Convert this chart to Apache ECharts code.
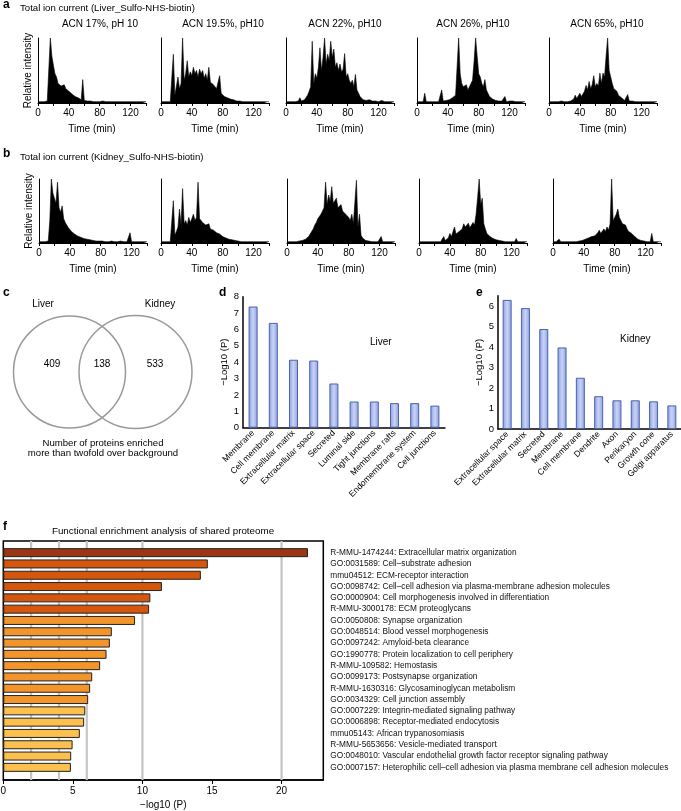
<!DOCTYPE html>
<html><head><meta charset="utf-8">
<script src="https://cdn.jsdelivr.net/npm/echarts@6/dist/echarts.min.js"></script>
<style>html,body{margin:0;padding:0;background:#fff}#c{width:681px;height:811px}</style>
</head><body><div id="c"></div><script>
const FONT = '"Liberation Sans", Arial, Helvetica, sans-serif';

// ---------- Panel a / b : total ion current traces (relative intensity, 2-min sampling) ----------
const ticTime = [0,2,4,6,8,10,12,14,16,18,20,22,24,26,28,30,32,34,36,38,40,42,44,46,48,50,52,54,56,58,60,62,64,66,68,70,72,74,76,78,80,82,84,86,88,90,92,94,96,98,100,102,104,106,108,110,112,114,116,118,120,122,124,126,128,130,132,134,136,138,140];
const ticTickLabels = [0,40,80,120];
const fractionTitles = ['ACN 17%, pH 10','ACN 19.5%, pH10','ACN 22%, pH10','ACN 26%, pH10','ACN 65%, pH10'];

const liverACN17  = [2,2,2,2,2,2,3,5,100,72,58,45,40,30,32,26,24,28,22,25,18,16,14,12,10,9,8,6,5,36,4,3,3,2,3,2,2,3,2,2,2,2,3,2,2,2,2,3,2,2,2,2,2,3,2,2,2,2,2,3,2,2,2,2,2,3,2,2,2,2,2];
const liverACN195 = [2,2,2,2,2,2,2,3,75,12,15,40,22,30,100,35,45,65,40,48,42,55,45,50,40,52,45,50,38,45,35,55,32,30,28,25,22,20,42,15,12,10,9,8,7,6,5,5,4,3,3,3,2,2,2,2,3,2,2,2,2,2,2,2,2,2,2,2,2,2,2];
const liverACN22  = [2,2,2,2,2,2,2,2,3,8,3,4,5,8,12,18,25,95,30,45,38,55,85,50,70,100,60,75,65,95,70,83,55,62,50,60,48,52,76,40,45,35,30,35,25,44,20,18,10,7,5,4,4,3,5,3,3,2,3,2,2,3,4,2,2,2,2,2,2,2,2];
const liverACN26  = [2,2,2,2,2,15,2,2,2,2,2,2,2,2,2,2,20,3,3,4,5,5,6,8,10,12,15,100,45,30,25,22,28,20,25,30,35,64,100,72,45,40,30,25,36,20,15,10,8,6,5,4,4,3,3,3,2,10,2,2,3,5,3,2,2,2,2,2,2,2,2];
const liverACN65  = [2,2,2,2,2,2,2,2,3,2,2,2,2,2,3,4,6,12,7,9,15,10,12,18,27,20,33,22,28,42,25,30,26,46,30,46,40,72,100,50,40,30,22,25,18,12,10,8,6,4,5,13,3,3,3,2,2,2,2,2,2,4,2,2,2,2,2,2,2,2,2];

const kidneyACN17  = [2,2,2,2,2,2,3,35,100,78,70,62,95,55,48,58,38,32,28,24,22,18,16,14,12,11,10,9,8,7,6,6,5,5,4,4,4,3,3,3,3,3,3,2,3,2,2,3,2,2,2,2,2,3,2,2,2,2,3,16,2,2,2,2,2,2,2,2,2,2,2];
const kidneyACN195 = [2,2,2,2,2,2,2,2,66,12,18,25,53,28,85,30,35,28,40,32,38,45,35,40,95,38,35,32,30,28,25,30,22,20,20,18,16,15,14,12,10,10,8,7,6,5,5,4,4,3,3,2,2,2,2,2,2,2,2,4,2,2,2,2,2,2,2,2,2,2,2];
const kidneyACN22  = [2,2,2,2,2,2,2,2,3,3,4,5,6,8,10,14,18,22,28,32,38,40,45,50,55,95,60,75,65,88,62,60,70,55,58,60,50,48,45,42,40,35,45,30,28,98,25,45,12,8,5,4,4,3,3,2,2,2,2,2,3,10,2,2,2,2,2,2,2,2,2];
const kidneyACN26  = [2,2,2,2,2,2,2,2,2,2,2,2,2,2,2,3,10,4,6,8,15,10,12,25,14,16,18,20,22,30,25,22,31,24,26,32,28,45,71,100,60,70,30,22,15,12,10,8,7,6,5,4,4,3,3,2,2,2,2,2,2,2,2,7,2,2,2,2,2,2,2];
const kidneyACN65  = [2,2,2,2,6,2,2,2,2,2,2,2,2,2,2,2,2,3,5,4,5,6,7,8,9,10,12,11,14,16,20,15,18,22,18,25,20,30,100,35,40,45,53,40,35,30,32,28,22,18,20,15,12,10,8,6,5,4,3,3,2,2,2,2,15,2,2,2,2,2,2];

const liverTraces  = [liverACN17, liverACN195, liverACN22, liverACN26, liverACN65];
const kidneyTraces = [kidneyACN17, kidneyACN195, kidneyACN22, kidneyACN26, kidneyACN65];

// ---------- Panel c : Venn ----------
const vennSets   = ['Liver','Kidney'];
const vennCounts = [409, 138, 533];   // liver only, shared, kidney only
const vennCaption = ['Number of proteins enriched','more than twofold over background'];

// ---------- Panel d / e : GO cellular component ----------
const liverCats = ['Membrane','Cell membrane','Extracellular matrix','Extracellular space','Secreted','Luminal side','Tight junctions','Membrane rafts','Endomembrane system','Cell junctions'];
const liverVals = [7.4, 6.4, 4.15, 4.1, 2.7, 1.6, 1.6, 1.5, 1.5, 1.35];
const kidneyCats = ['Extracellular space','Extracellular matrix','Secreted','Membrane','Cell membrane','Dendrite','Axon','Perikaryon','Growth cone','Golgi apparatus'];
const kidneyVals = [6.3, 5.9, 4.88, 3.98, 2.5, 1.6, 1.4, 1.4, 1.35, 1.15];

// ---------- Panel f : functional enrichment ----------
const fTerms = [
 'R-MMU-1474244: Extracellular matrix organization',
 'GO:0031589: Cell\u2013substrate adhesion',
 'mmu04512: ECM-receptor interaction',
 'GO:0098742: Cell\u2013cell adhesion via plasma-membrane adhesion molecules',
 'GO:0000904: Cell morphogenesis involved in differentiation',
 'R-MMU-3000178: ECM proteoglycans',
 'GO:0050808: Synapse organization',
 'GO:0048514: Blood vessel morphogenesis',
 'GO:0097242: Amyloid-beta clearance',
 'GO:1990778: Protein localization to cell periphery',
 'R-MMU-109582: Hemostasis',
 'GO:0099173: Postsynapse organization',
 'R-MMU-1630316: Glycosaminoglycan metabolism',
 'GO:0034329: Cell junction assembly',
 'GO:0007229: Integrin-mediated signaling pathway',
 'GO:0006898: Receptor-mediated endocytosis',
 'mmu05143: African trypanosomiasis',
 'R-MMU-5653656: Vesicle-mediated transport',
 'GO:0048010: Vascular endothelial growth factor receptor signaling pathway',
 'GO:0007157: Heterophilic cell\u2013cell adhesion via plasma membrane cell adhesion molecules'
];
const fVals = [21.9, 14.7, 14.2, 11.4, 10.57, 10.48, 9.47, 7.8, 7.66, 7.42, 6.96, 6.39, 6.24, 6.1, 5.89, 5.81, 5.5, 4.98, 4.88, 4.86];
const fColorGroup = [0,1,1,1,1,1,2,2,2,2,2,2,2,2,3,3,3,3,3,3];
const fPalette = ['#9c3514','#d4570d','#f2952a','#fcc04e'];
const fGridLines = [2,4,6,10,20];
const fTicks = [0,5,10,15,20];

// ================== build option ==================
const grids=[], xAxes=[], yAxes=[], series=[], graphics=[];
const txt = (s, x, y, size, opt={}) => graphics.push(Object.assign({type:'text', x, y, silent:true,
  style:Object.assign({text:s, fontSize:size, fontFamily:FONT, fill:'#000', align:'left', verticalAlign:'middle'}, opt.style||{})}, opt.el||{}));

function addTIC(left, top, height, data, showYName){
  const idx = grids.length;
  grids.push({left, top, width:108, height, outerBoundsMode:'none'});
  xAxes.push({gridIndex:idx, type:'value', min:0, max:140, interval:20,
    axisLine:{show:true, lineStyle:{color:'#000', width:1}},
    axisTick:{show:true, length:3, lineStyle:{color:'#000', width:1}},
    axisLabel:{fontSize:10, color:'#000', margin:5.5, fontFamily:FONT, formatter:v=>ticTickLabels.includes(v)?String(v):''},
    splitLine:{show:false},
    name:'Time (min)', nameLocation:'middle', nameGap:21, nameTextStyle:{fontSize:10, color:'#000', fontFamily:FONT}});
  yAxes.push({gridIndex:idx, type:'value', min:0, max:100,
    axisLine:{show:true, lineStyle:{color:'#000', width:1}}, axisTick:{show:false}, axisLabel:{show:false}, splitLine:{show:false},
    name: showYName?'Relative intensity':'', nameLocation:'middle', nameGap:5, nameRotate:90,
    nameTextStyle:{fontSize:10, color:'#000', fontFamily:FONT}});
  series.push({type:'line', xAxisIndex:idx, yAxisIndex:idx, data:ticTime.map((t,i)=>[t,data[i]]),
    symbol:'none', lineStyle:{color:'#000', width:0.6}, areaStyle:{color:'#000', opacity:1}, silent:true});
}
const aLefts=[38,161,286,417,549], aTitleX=[100,223,345,473,607];
const bLefts=[39,161,287,419,553];
liverTraces.forEach((d,i)=>addTIC(aLefts[i], 38, 65, d, i===0));
kidneyTraces.forEach((d,i)=>addTIC(bLefts[i], 179, 64, d, i===0));
fractionTitles.forEach((t,i)=>txt(t, aTitleX[i], 24, 10, {style:{align:'center'}}));

// panel titles
txt('a', 3, 5, 12, {style:{fontWeight:'bold'}});
txt('Total ion current (Liver_Sulfo-NHS-biotin)', 20, 8, 9.6);
txt('b', 3, 154, 12, {style:{fontWeight:'bold'}});
txt('Total ion current (Kidney_Sulfo-NHS-biotin)', 20, 157, 9.6);
txt('c', 3, 293, 12, {style:{fontWeight:'bold'}});
txt('d', 219, 293, 12, {style:{fontWeight:'bold'}});
txt('e', 476, 293, 12, {style:{fontWeight:'bold'}});
txt('f', 3, 527, 12, {style:{fontWeight:'bold'}});

// Venn
graphics.push({type:'circle', shape:{cx:69.5, cy:372, r:56}, silent:true, style:{fill:'none', stroke:'#9a9a9a', lineWidth:1.5}});
graphics.push({type:'circle', shape:{cx:135.5, cy:372, r:56.5}, silent:true, style:{fill:'none', stroke:'#9a9a9a', lineWidth:1.5}});
txt(vennSets[0], 43, 304, 10, {style:{align:'center'}});
txt(vennSets[1], 160, 304, 10, {style:{align:'center'}});
[52,102,155].forEach((x,i)=>txt(String(vennCounts[i]), x, 364, 10, {style:{align:'center'}}));
txt(vennCaption[0], 103, 443, 9.6, {style:{align:'center'}});
txt(vennCaption[1], 103, 453.5, 9.6, {style:{align:'center'}});

// d / e bar charts
const blueGrad = {type:'linear', x:0, y:0, x2:1, y2:0, colorStops:[{offset:0,color:'#8b9edd'},{offset:0.5,color:'#c9d3f5'},{offset:1,color:'#8b9edd'}]};
function addCC(left, top, width, height, max, cats, vals, label, lx, ly){
  const idx = grids.length;
  grids.push({left, top, width, height, outerBoundsMode:'none'});
  xAxes.push({gridIndex:idx, type:'category', data:cats,
    axisLine:{show:true, lineStyle:{color:'#000', width:1.5}}, axisTick:{show:false},
    axisLabel:{rotate:45, fontSize:8.6, margin:4, interval:0, color:'#000', fontFamily:FONT}});
  yAxes.push({gridIndex:idx, type:'value', min:0, max, interval:1,
    axisLine:{show:true, lineStyle:{color:'#000', width:1.5}}, axisTick:{show:false}, splitLine:{show:false},
    axisLabel:{fontSize:9.5, margin:4, color:'#000', fontFamily:FONT, showMaxLabel: max%1===0},
    name:'\u2212Log10 (P)', nameLocation:'middle', nameGap:12, nameRotate:90,
    nameTextStyle:{fontSize:9.5, color:'#000', fontFamily:FONT}});
  series.push({type:'bar', xAxisIndex:idx, yAxisIndex:idx, data:vals, barWidth:9, silent:true,
    itemStyle:{color:blueGrad, borderColor:'#4a62b3', borderWidth:1}});
  txt(label, lx, ly, 10);
}
addCC(243, 296.7, 202, 131, 8, liverCats, liverVals, 'Liver', 370, 342);
addCC(498, 295.8, 183, 133.2, 6.5, kidneyCats, kidneyVals, 'Kidney', 620, 339);

// panel f frame
const fFrame = grids.length;
grids.push({left:3.3, top:541, width:320, height:239, show:true, borderColor:'#000', borderWidth:1.5, backgroundColor:'transparent', outerBoundsMode:'none'});
xAxes.push({gridIndex:fFrame, type:'value', min:0, max:23, interval:5,
  axisLine:{show:true, lineStyle:{color:'#000', width:1.5}},
  axisTick:{show:true, length:4, lineStyle:{color:'#000'}},
  axisLabel:{fontSize:10, color:'#000', margin:6, fontFamily:FONT, showMaxLabel:false, formatter:v=>fTicks.includes(v)?String(v):''},
  splitLine:{show:false},
  name:'\u2212log10 (P)', nameLocation:'middle', nameGap:20, nameTextStyle:{fontSize:10, color:'#000', fontFamily:FONT}});
yAxes.push({gridIndex:fFrame, type:'value', min:0, max:1, show:false});
fGridLines.forEach(v=>series.push({type:'line', xAxisIndex:fFrame, yAxisIndex:fFrame, data:[[v,0],[v,1]],
  symbol:'none', silent:true, lineStyle:{color:'#c4c4c4', width:2.2}, z:1}));

// panel f bars
const fBars = grids.length;
grids.push({left:3.3, top:547, width:320, height:226, outerBoundsMode:'none'});
xAxes.push({gridIndex:fBars, type:'value', min:0, max:23, show:false});
yAxes.push({gridIndex:fBars, type:'category', data:fTerms, inverse:true, position:'right',
  axisLine:{show:false}, axisTick:{show:false},
  axisLabel:{fontSize:8.3, color:'#111', margin:7, align:'left', interval:0, fontFamily:FONT}});
series.push({type:'bar', xAxisIndex:fBars, yAxisIndex:fBars, barWidth:9, silent:true, z:3,
  data:fVals.map((v,i)=>({value:v, itemStyle:{color:fPalette[fColorGroup[i]]}})),
  itemStyle:{borderColor:'#222', borderWidth:1}});
txt('Functional enrichment analysis of shared proteome', 163, 531, 9.8, {style:{align:'center'}});

const chart = echarts.init(document.getElementById('c'), null, {renderer:'canvas'});
chart.setOption({animation:false, backgroundColor:'#fff', textStyle:{fontFamily:FONT},
  grid:grids, xAxis:xAxes, yAxis:yAxes, series, graphic:graphics});
</script></body></html>
